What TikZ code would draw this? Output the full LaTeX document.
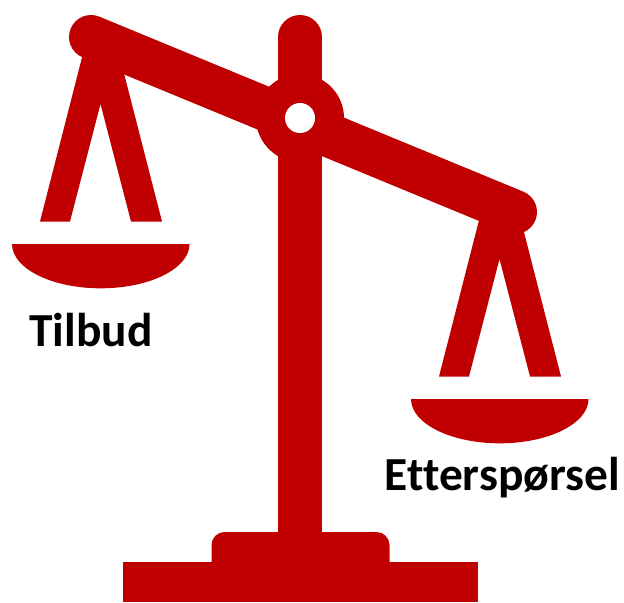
\documentclass[tikz,border=0pt]{standalone}
\usepackage{fontspec}
\setmainfont{Carlito}[Ligatures=NoCommon]
\definecolor{scalered}{HTML}{C00000}
\tikzset{
    scalepart/.style={fill=scalered, draw=none},
    scalelabel/.style={anchor=base, inner sep=0pt, font=\fontsize{27}{32}\selectfont\bfseries}
}

\begin{document}
\begin{tikzpicture}[x=0.02cm, y=-0.02cm]
    \useasboundingbox (0,0) rectangle (624,602);
    % Pole and foot
    \draw[scalered, line width=0.88cm, line cap=round] (300,37) -- (300,300);
    \fill[scalepart] (278,300) rectangle (322,540);
    \fill[scalepart] (123,561.5) rectangle (478,602);
    \fill[scalepart, rounded corners=0.26cm] (211.5,595) -- (211.5,532) -- (389.5,532) -- (389.5,595) -- cycle;
    % Beam
    \draw[scalered, line width=0.88cm, line cap=round] (91,37) -- (515,212);
    % Hangers and pans
    \foreach \dx/\dy in {0/0, 399/155} {
        \fill[scalepart, shift={(\dx*0.02cm,-\dy*0.02cm)}] (40,221.5) -- (88,34) -- (118,50) -- (162,221.5)
            -- (131,221.5) -- (100.5,104) -- (70,221.5) -- cycle;
        \fill[scalepart, shift={(\dx*0.02cm,-\dy*0.02cm)}] (12,244) -- (189.5,244)
            arc[start angle=0, end angle=180, x radius=88.75, y radius=44.3] -- cycle;
    }
    % Hub
    \fill[scalepart] (300,118) circle[radius=0.88cm];
    \fill[white] (300,118) circle[radius=0.3cm];
    % Labels
    \node[scalelabel] (tilbud) at (91,346) {Tilbud};
    \node[scalelabel] (etterspoersel) at (502.5,490) {Etterspørsel};
\end{tikzpicture}
\end{document}
